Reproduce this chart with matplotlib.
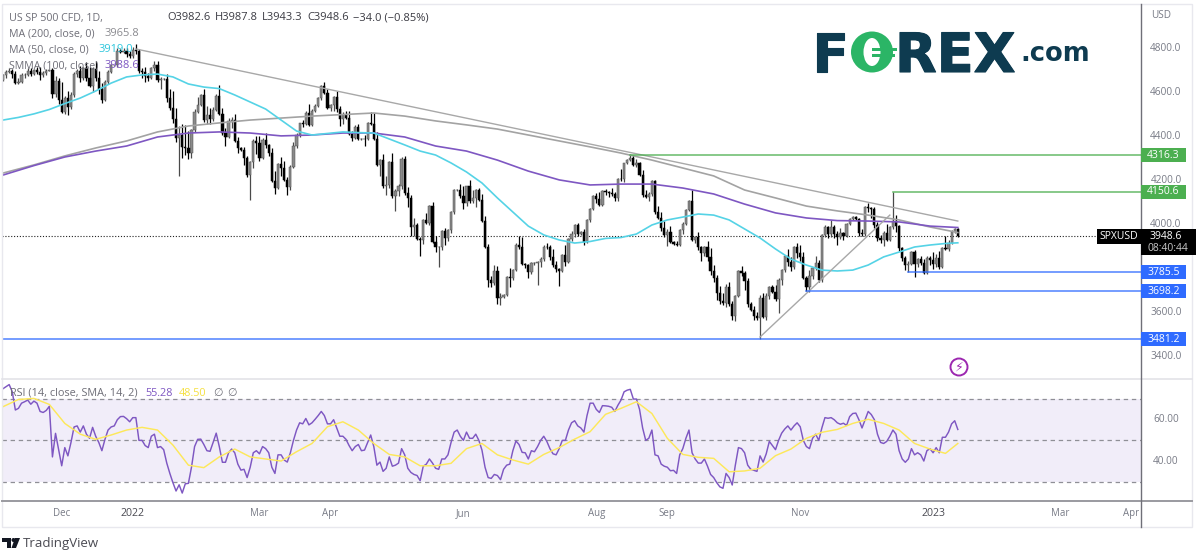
#!/usr/bin/env python3
import numpy as np
import matplotlib

matplotlib.use("Agg")
import matplotlib.pyplot as plt  # noqa: E402
from matplotlib import patheffects  # noqa: E402
from matplotlib.patches import Circle, Ellipse, Polygon, Rectangle  # noqa: E402
from matplotlib.transforms import blended_transform_factory  # noqa: E402

plt.rcParams["font.family"] = ["Open Sans", "DejaVu Sans"]

# -------------------------------
# Values
# -------------------------------
first_day = "2021-11-04"
last_day = "2023-01-13"
no_bar_days = ["2022-12-26", "2023-01-02"]

first_open = 4660
closes = [
    4680, 4697, 4701, 4685, 4646, 4649, 4682, 4682, 4700, 4688,
    4704, 4697, 4682, 4690, 4701, 4704, 4594, 4655, 4567, 4513,
    4577, 4538, 4591, 4686, 4701, 4667, 4712, 4668, 4634, 4709,
    4668, 4620, 4568, 4649, 4696, 4725, 4725, 4791, 4786, 4793,
    4778, 4766, 4796, 4793, 4700, 4696, 4677, 4670, 4713, 4726,
    4659, 4662, 4662, 4577, 4532, 4482, 4397, 4410, 4356, 4349,
    4326, 4431, 4515, 4546, 4589, 4477, 4500, 4483, 4521, 4587,
    4504, 4418, 4401, 4471, 4475, 4380, 4348, 4340, 4304, 4225,
    4288, 4384, 4373, 4306, 4386, 4363, 4328, 4201, 4170, 4277,
    4259, 4204, 4173, 4262, 4357, 4411, 4463, 4461, 4511, 4456,
    4520, 4543, 4575, 4631, 4602, 4530, 4545, 4582, 4525, 4481,
    4500, 4488, 4412, 4397, 4446, 4392, 4392, 4391, 4462, 4459,
    4393, 4271, 4296, 4175, 4183, 4287, 4131, 4155, 4175, 4300,
    4146, 4123, 3991, 4001, 3935, 3930, 4023, 4008, 4088, 3923,
    3900, 3901, 3973, 3941, 3978, 4057, 4158, 4160, 4132, 4101,
    4176, 4108, 4121, 4160, 4115, 4017, 3900, 3749, 3735, 3789,
    3666, 3674, 3680, 3764, 3759, 3795, 3911, 3900, 3821, 3818,
    3785, 3825, 3825, 3831, 3845, 3902, 3899, 3854, 3818, 3801,
    3790, 3863, 3830, 3936, 3959, 3998, 3961, 3966, 3921, 4023,
    4072, 4130, 4118, 4091, 4155, 4151, 4145, 4140, 4122, 4210,
    4207, 4280, 4297, 4305, 4274, 4283, 4228, 4137, 4128, 4140,
    4199, 4057, 4030, 3986, 3955, 3966, 3924, 3915, 3908, 3979,
    4006, 4067, 4110, 3932, 3946, 3901, 3873, 3899, 3855, 3789,
    3757, 3693, 3655, 3647, 3719, 3640, 3585, 3678, 3790, 3783,
    3744, 3639, 3612, 3588, 3577, 3669, 3583, 3677, 3719, 3695,
    3665, 3752, 3797, 3859, 3830, 3807, 3901, 3871, 3856, 3759,
    3719, 3770, 3806, 3828, 3748, 3956, 3992, 3957, 3991, 3958,
    3946, 3965, 3949, 4003, 4027, 4035, 4026, 3963, 3957, 4080,
    4076, 4071, 3998, 3941, 3933, 3963, 3934, 3990, 4019, 3995,
    3895, 3852, 3817, 3821, 3878, 3822, 3844, 3829, 3783, 3849,
    3839, 3824, 3852, 3808, 3895, 3892, 3919, 3969, 3982.6, 3948.6,
]
upper_wicks = [
    8, 6, 12, 8, 15, 20, 8, 10, 14, 12,
    6, 15, 20, 12, 8, 5, 10, 20, 15, 85,
    8, 30, 15, 8, 6, 20, 5, 30, 50, 10,
    35, 30, 25, 10, 8, 5, 3, 15, 8, 12,
    10, 15, 12, 25, 5, 15, 20, 12, 5, 20,
    18, 10, 5, 25, 40, 75, 50, 40, 50, 97,
    79, 5, 10, 35, 5, 30, 40, 30, 15, 8,
    50, 30, 25, 15, 15, 30, 20, 5, 15, 10,
    5, 5, 20, 30, 10, 30, 5, 20, 45, 5,
    30, 30, 15, 10, 20, 5, 2, 15, 5, 40,
    5, 8, 5, 5, 20, 15, 5, 5, 25, 15,
    15, 20, 30, 15, 10, 15, 3, 15, 5, 53,
    50, 30, 5, 25, 40, 5, 40, 10, 10, 8,
    15, 25, 15, 30, 10, 10, 5, 30, 5, 15,
    25, 5, 5, 15, 5, 5, 5, 5, 25, 45,
    3, 30, 40, 5, 10, 25, 25, 15, 20, 30,
    25, 15, 5, 5, 40, 5, 5, 40, 45, 5,
    5, 5, 5, 5, 10, 5, 15, 10, 35, 20,
    5, 5, 45, 5, 15, 5, 10, 5, 15, 5,
    5, 8, 15, 30, 5, 10, 5, 25, 10, 5,
    45, 3, 3, 18, 15, 15, 5, 20, 20, 10,
    5, 5, 30, 30, 30, 15, 30, 5, 10, 5,
    8, 5, 5, 49, 5, 20, 5, 5, 30, 40,
    30, 15, 30, 35, 15, 20, 15, 5, 5, 25,
    10, 15, 10, 20, 15, 15, 20, 15, 5, 10,
    30, 5, 5, 5, 30, 25, 5, 15, 40, 20,
    10, 25, 5, 30, 15, 5, 10, 5, 30, 10,
    15, 20, 5, 5, 5, 5, 5, 5, 20, 5,
    20, 5, 10, 15, 15, 10, 40, 5, 131, 25,
    5, 5, 5, 15, 5, 10, 5, 15, 15, 10,
    10, 39, 15, 30, 5, 55, 15, 10, 5, 5.2,
]
lower_wicks = [
    5, 10, 8, 15, 5, 5, 5, 15, 5, 10,
    5, 10, 25, 10, 8, 3, 15, 10, 15, 3,
    8, 40, 10, 10, 15, 15, 10, 15, 5, 30,
    15, 25, 12, 5, 10, 5, 3, 5, 5, 5,
    15, 5, 5, 15, 8, 30, 25, 15, 5, 15,
    10, 40, 5, 20, 10, 20, 20, 175, 50, 30,
    25, 20, 10, 5, 5, 10, 20, 25, 10, 5,
    5, 10, 40, 5, 30, 5, 20, 5, 30, 5,
    110, 30, 50, 15, 5, 15, 15, 5, 30, 5,
    35, 5, 35, 15, 5, 5, 10, 15, 5, 5,
    5, 5, 5, 5, 5, 5, 10, 25, 10, 30,
    20, 5, 5, 15, 5, 5, 5, 30, 5, 5,
    5, 5, 50, 5, 40, 15, 10, 69, 25, 10,
    10, 40, 40, 40, 5, 72, 15, 5, 10, 5,
    25, 90, 15, 30, 15, 15, 5, 5, 10, 30,
    15, 10, 10, 40, 5, 5, 5, 30, 15, 10,
    27, 30, 5, 5, 40, 10, 5, 10, 5, 15,
    25, 10, 5, 96, 20, 10, 10, 15, 10, 15,
    69, 5, 15, 5, 10, 15, 10, 5, 10, 5,
    10, 5, 20, 5, 5, 15, 20, 10, 15, 15,
    5, 10, 5, 5, 5, 10, 5, 10, 5, 20,
    10, 5, 5, 15, 10, 52, 5, 5, 5, 5,
    20, 5, 5, 5, 15, 15, 35, 15, 20, 15,
    15, 35, 15, 10, 20, 10, 15, 20, 5, 15,
    40, 10, 5, 20, 10, 96, 5, 15, 15, 5,
    10, 65, 25, 10, 15, 15, 5, 20, 20, 5,
    21, 25, 15, 10, 5, 5, 10, 15, 10, 15,
    35, 10, 15, 5, 5, 5, 5, 15, 5, 5,
    15, 40, 10, 15, 15, 30, 5, 5, 10, 25,
    15, 15, 20, 32, 5, 58, 15, 10, 5, 5,
    20, 25, 15, 10, 5, 5, 10, 5, 5, 5.3,
]

# slow averages: one reading every 10 bars plus the last bar
ma200 = [
    4236, 4273, 4314, 4350, 4382, 4423, 4450, 4464, 4477, 4486, 4495,
    4502, 4509, 4495, 4473, 4455, 4436, 4409, 4382, 4355, 4327, 4295,
    4259, 4223, 4159, 4123, 4086, 4064, 4045, 4023, 3991, 3965.8,
]
smma100 = [
    4227, 4270, 4309, 4336, 4359, 4400, 4418, 4423, 4418, 4405, 4409,
    4418, 4418, 4400, 4359, 4336, 4295, 4245, 4205, 4182, 4186, 4186,
    4168, 4141, 4095, 4055, 4032, 4020, 4018, 4014, 3995, 3988.6,
]
# faster ones: one reading every 5 bars plus the last bar
ma50 = [
    4477, 4489, 4505, 4525, 4552, 4577, 4609, 4645, 4673, 4682,
    4686, 4673, 4641, 4627, 4620, 4591, 4559, 4527, 4477, 4427,
    4409, 4416, 4423, 4420, 4418, 4391, 4364, 4336, 4318, 4282,
    4241, 4191, 4123, 4059, 3995, 3955, 3932, 3918, 3925, 3939,
    3943, 3959, 4000, 4023, 4036, 4050, 4045, 4023, 3982, 3941,
    3891, 3845, 3818, 3795, 3791, 3795, 3818, 3855, 3877, 3900,
    3909, 3916, 3919,
]
rsi_ma = [
    66.3, 69.8, 70.3, 67.4, 58.2, 53, 50.5, 52.6, 55, 56.3,
    55, 47.7, 38, 36.8, 42, 45.8, 42, 41, 40, 44.5,
    48.5, 56.6, 59, 55, 48.5, 43.2, 42, 37.7, 37.7, 38.9,
    46, 48.5, 43, 40.5, 38.5, 43.2, 46.5, 50.6, 54.2, 62.6,
    65.5, 68.7, 63, 51, 43.2, 41.8, 41.3, 34.8, 35.2, 36.5,
    42.6, 45.8, 51, 53.9, 55.3, 58.2, 60.2, 58.2, 55, 48.5,
    45.8, 43.7, 48.5,
]

rsi = [
    75, 76, 77, 73.5, 64.7, 65.5, 68, 68.7, 69.5, 67.5,
    69, 68, 64, 63.5, 64.5, 66.5, 42, 53.4, 45.5, 37.7,
    46.5, 42.5, 49, 56.5, 57, 54, 57, 53, 51, 56.3,
    52, 49, 45, 50.5, 55, 56.5, 57, 60, 61.5, 61.6,
    60.5, 59, 61, 61, 50, 50, 47.5, 46.5, 52, 53,
    46.5, 47, 45.5, 39, 34, 29.5, 25.5, 28.5, 24.5, 29,
    29.2, 37, 47, 50.5, 50.6, 48, 45, 44.7, 49, 53.5,
    47, 39.4, 39.4, 44, 45.8, 44, 38.5, 35.6, 36, 32,
    37, 44, 45, 43.5, 47, 46, 44, 37, 34, 43,
    43, 40.5, 39.5, 44, 50, 55, 58.5, 58, 60.6, 57.5,
    58.5, 60.2, 62, 64, 62, 58, 58, 60, 56, 52,
    52, 50.5, 47.5, 45, 47, 48, 45, 45.3, 49, 52.6,
    47, 38, 39.5, 35, 36.5, 42, 37.5, 38, 39, 46,
    43, 36.5, 34.5, 33.5, 33, 30.5, 37.5, 38.5, 41, 39,
    36.5, 36, 41, 41, 43, 49, 54, 55, 52, 50,
    54, 51, 51, 53, 50, 45.3, 37, 32, 31.6, 33.5,
    33, 31, 36, 38, 38.5, 45, 49.7, 48, 44.2, 44,
    41, 45, 44.5, 47, 50, 52, 49.5, 46, 43.5, 43,
    46, 50, 50, 55, 58.5, 59.5, 57, 56, 54, 62,
    68, 68, 65, 63.5, 66.8, 66.7, 66.5, 66, 64, 67,
    69.5, 73.5, 74.3, 74.7, 70, 70, 65, 56, 50, 51,
    55, 43, 42.5, 38.5, 37.5, 37, 35.3, 35.5, 34, 43,
    46, 51, 55, 44, 41, 39, 39, 41, 37.5, 33.5,
    32, 29.5, 27.5, 26.8, 34, 32, 28.4, 38, 46.5, 46,
    44, 38, 36, 35.5, 35, 42.5, 39.5, 43.5, 49.5, 47.5,
    45.5, 50, 53.5, 55.5, 57, 55, 57, 58.5, 56.6, 50,
    47, 46, 51, 53, 50, 56, 61, 60.7, 61, 60,
    58.5, 57.8, 58.3, 57.2, 61.5, 63, 63.2, 60, 56, 60,
    64, 62.5, 60, 53, 49, 48.5, 49.5, 52, 55, 53,
    45, 41, 39.4, 41, 46, 43, 44, 43, 40, 45,
    46, 44, 46.5, 44, 51.5, 51.5, 54, 58, 59.5, 55.28,
]

price_ticks = [3400, 3600, 4000, 4200, 4400, 4600, 4800]
rsi_ticks = [40, 60]
rsi_levels = [30, 50, 70]

tick_dates = ["2021-12-01", "2022-01-03", "2022-03-01", "2022-04-01", "2022-06-01",
              "2022-08-01", "2022-09-01", "2022-11-01", "2023-01-03", "2023-03-01", "2023-04-03"]
tick_labels = ["Dec", "2022", "Mar", "Apr", "Jun", "Aug", "Sep", "Nov", "2023", "Mar", "Apr"]

level_prices = [4316.3, 4150.6, 3785.5, 3698.2, 3481.2]
level_dates = ["2022-08-16", "2022-12-13", "2022-12-20", "2022-11-03", "2021-11-04"]
level_colors = ["#4caf50", "#4caf50", "#2f6bff", "#2f6bff", "#2f6bff"]

trend_dates = [["2022-01-04", "2023-01-13"], ["2022-10-13", "2022-12-12"]]
trend_prices = [[4800, 4018], [3491, 4045]]


def bar_of(day):
    return int(np.busday_count(first_day, day, holidays=no_bar_days))


W, H = 1200, 559
AXIS_X = 1141
BAR_PX = 3.09
FIRST_BAR_PX = 3.0

GRAY_TXT = "#787b86"
UP_COL = "#8a8a8a"
UP_WICK = "#4a4a4a"
DOWN_COL = "#000000"

bars = np.arange(len(closes))
closes = np.array(closes, dtype=float)
opens = np.concatenate([[first_open], closes[:-1]])
highs = np.maximum(opens, closes) + np.array(upper_wicks)
lows = np.minimum(opens, closes) - np.array(lower_wicks)
slow_bars = list(range(0, len(closes), 10)) + [len(closes) - 1]
fast_bars = list(range(0, len(closes), 5)) + [len(closes) - 1]

fig = plt.figure(figsize=(W / 100, H / 100), dpi=100, facecolor="white")


def px_axes(left, top, right, bottom):
    return fig.add_axes([left / W, 1 - bottom / H, (right - left) / W, (bottom - top) / H])


xlim = ((2 - FIRST_BAR_PX) / BAR_PX, (AXIS_X - FIRST_BAR_PX) / BAR_PX)

# -------------------------------
# Price pane
# -------------------------------
ax = px_axes(2, 4, AXIS_X, 379)
ax.set_xlim(*xlim)
ax.set_ylim(3300, 5004.5)
ax.axis("off")

up = closes >= opens
wick_colors = [UP_WICK if u else DOWN_COL for u in up]
ax.vlines(bars, lows, highs, colors=wick_colors, linewidth=0.9, zorder=2)
ax.bar(bars[up], (closes - opens)[up], bottom=opens[up], width=0.72, color=UP_COL,
       edgecolor="#505050", linewidth=0.35, zorder=3)
ax.bar(bars[~up], (opens - closes)[~up], bottom=closes[~up], width=0.72, color=DOWN_COL,
       edgecolor=DOWN_COL, linewidth=0.35, zorder=3)

ax.plot(slow_bars, ma200, color="#a3a3a3", lw=1.2, zorder=4)
ax.plot(slow_bars, smma100, color="#7e57c2", lw=1.2, zorder=4)
ax.plot(fast_bars, ma50, color="#55d3e6", lw=1.2, zorder=4)

for days, prices in zip(trend_dates, trend_prices):
    ax.plot([bar_of(d) for d in days], prices, color="#a8a8a8", lw=1.0, zorder=4)

for price, day, col in zip(level_prices, level_dates, level_colors):
    ax.plot([bar_of(day), xlim[1]], [price, price], color=col, lw=1.1, alpha=0.85, zorder=4)

ax.plot(xlim, [closes[-1], closes[-1]], color="#222222", lw=0.8, ls=(0, (1, 1.6)), zorder=1)

# -------------------------------
# RSI pane
# -------------------------------
ax_rsi = px_axes(2, 379, AXIS_X, 501)
ax_rsi.set_xlim(*xlim)
ax_rsi.set_ylim(20.66, 79.7)
ax_rsi.axis("off")
ax_rsi.axhspan(rsi_levels[0], rsi_levels[-1], color="#f1edf9", lw=0, zorder=0)
for lev in rsi_levels:
    ax_rsi.axhline(lev, color="#8f8f96", lw=0.9, ls=(0, (3.5, 3)), zorder=1)
ax_rsi.plot(bars, rsi, color="#7e57c2", lw=1.05, zorder=3)
ax_rsi.plot(fast_bars, rsi_ma, color="#fde85a", lw=1.05, zorder=4)

# -------------------------------
# Everything around the panes, in pixel coordinates
# -------------------------------
ov = fig.add_axes([0, 0, 1, 1], facecolor="none")
ov.set_xlim(0, W)
ov.set_ylim(H, 0)
ov.axis("off")

frame = "#e8e8ee"
ov.add_patch(Rectangle((1.5, 3.5), 1190.5, 523.5, fill=False, ec=frame, lw=1.0))
ov.plot([2, 1192], [379, 379], color="#e3e3e8", lw=1.2)
ov.plot([2, 1192], [501, 501], color="#9a9aa0", lw=1.4)
ov.plot([AXIS_X, AXIS_X], [4, 527], color="#6f6f78", lw=1.0, zorder=6)

# value scales
price_y = blended_transform_factory(ov.transData, ax.transData)
rsi_y = blended_transform_factory(ov.transData, ax_rsi.transData)
ov.text(1151, 16, "USD", fontsize=7.2, color=GRAY_TXT, va="center", ha="left")
for t in price_ticks:
    ov.text(1166, t, f"{t:.1f}", fontsize=7.2, color=GRAY_TXT, va="center", ha="center", transform=price_y)
for t in rsi_ticks:
    ov.text(1166, t, f"{t:.2f}", fontsize=7.2, color=GRAY_TXT, va="center", ha="center", transform=rsi_y)

for price, col in zip(level_prices, level_colors):
    ov.add_patch(Rectangle((AXIS_X, price - 32), 45, 64, fc=col, ec="none", transform=price_y, zorder=7))
    ov.text(1163.5, price, f"{price:.1f}", fontsize=7.5, color="white", va="center", ha="center",
            transform=price_y, zorder=8)

# last price tag
ov.add_patch(Rectangle((1097, 229), 44, 14.5, fc="black", ec="none", zorder=7))
ov.add_patch(Rectangle((AXIS_X, 229), 54.5, 26, fc="black", ec="none", zorder=7))
ov.text(1119, 236.5, "SPXUSD", fontsize=7.5, color="white", ha="center", va="center", zorder=8)
ov.text(1166, 236.5, f"{closes[-1]:.1f}", fontsize=7.5, color="white", ha="center", va="center", zorder=8)
ov.text(1168, 248.5, "08:40:44", fontsize=7.5, color="#c8c8c8", ha="center", va="center", zorder=8)

# time axis
for day, lab in zip(tick_dates, tick_labels):
    x_px = FIRST_BAR_PX + BAR_PX * bar_of(day)
    is_year = lab.startswith("20")
    txt = ov.text(x_px, 513.5, lab, fontsize=7.6 if is_year else 7.0, ha="center", va="center",
                  color="#4a4a52" if is_year else GRAY_TXT)
    txt.set_clip_path(Rectangle((0, 0), AXIS_X, H, transform=ov.transData))

# legend rows
HEAD = "#6f6f78"
ov.text(9, 18, "US SP 500 CFD, 1D,", fontsize=7.7, color=HEAD, va="center")
for x_px, s in zip([167, 215, 262, 307, 353],
                   ["O3982.6", "H3987.8", "L3943.3", "C3948.6", "\u221234.0 (\u22120.85%)"]):
    ov.text(x_px, 18, s, fontsize=8, color="#3a3a42", va="center")
ov.text(9, 34, "MA (200, close, 0)", fontsize=7.7, color=HEAD, va="center", zorder=8)
ov.text(105, 34, "3965.8", fontsize=8, color="#8b8b90", va="center", zorder=8)
ov.text(9, 50, "MA (50, close, 0)", fontsize=7.7, color=HEAD, va="center", zorder=8)
ov.text(99, 50, "3919.0", fontsize=8, color="#2cc6dc", va="center", zorder=8)
ov.text(9, 66, "SMMA (100, close)", fontsize=7.7, color=HEAD, va="center", zorder=8)
ov.text(105, 66, "3988.6", fontsize=8, color="#7e57c2", va="center", zorder=8)

ov.text(10, 393, "RSI (14, close, SMA, 14, 2)", fontsize=7.8, color=HEAD, va="center", zorder=8)
ov.text(145, 393, "55.28", fontsize=7.8, color="#7e57c2", va="center", zorder=8)
ov.text(179, 393, "48.50", fontsize=7.8, color="#f5e040", va="center", zorder=8)
ov.text(213, 393, "\u2205", fontsize=7.8, color=HEAD, va="center", zorder=8)
ov.text(227, 393, "\u2205", fontsize=7.8, color=HEAD, va="center", zorder=8)

# FOREX.com logo
NAVY = "#0e3b50"
GREEN = "#2bb566"
heavy = [patheffects.withStroke(linewidth=0.8, foreground=NAVY)]
logo_font = dict(family="DejaVu Sans", fontweight="bold", color=NAVY, ha="left", va="baseline")
ov.text(812, 72, "F", fontsize=39, path_effects=heavy, **logo_font)
ov.text(895, 72, "REX", fontsize=39, path_effects=heavy, **logo_font)
ov.text(1020, 61, ".com", fontsize=18.5, **logo_font)
ov.add_patch(Ellipse((872, 52), 42, 41, fc=GREEN, ec="none", zorder=3))
ov.add_patch(Ellipse((872, 52), 17, 28, fc="white", ec="none", zorder=4))
ov.add_patch(Rectangle((872, 48), 25, 2.5, fc=GREEN, ec="none", zorder=5))
ov.add_patch(Rectangle((872, 54), 23, 2.5, fc=GREEN, ec="none", zorder=5))

# lightning badge
ov.add_patch(Circle((959, 367), 8.5, fc="white", ec="#9c27b0", lw=1.4, zorder=5))
ov.text(959, 367, "\u26a1", family="DejaVu Sans", fontsize=9, color="#9c27b0", ha="center", va="center", zorder=6)

# TradingView mark and name
ov.add_patch(Polygon([(2, 538), (11, 538), (11, 548), (7, 548), (7, 542), (2, 542)], fc="#131722", ec="none"))
ov.add_patch(Circle((13.5, 540), 2, fc="#131722", ec="none"))
ov.add_patch(Polygon([(15, 538), (20, 538), (16, 548), (11.5, 548)], fc="#131722", ec="none"))
ov.text(23, 543.5, "TradingView", fontsize=9.5, color="#4a4a52", va="center", ha="left")

fig.savefig("out.png", dpi=100, facecolor="white")
